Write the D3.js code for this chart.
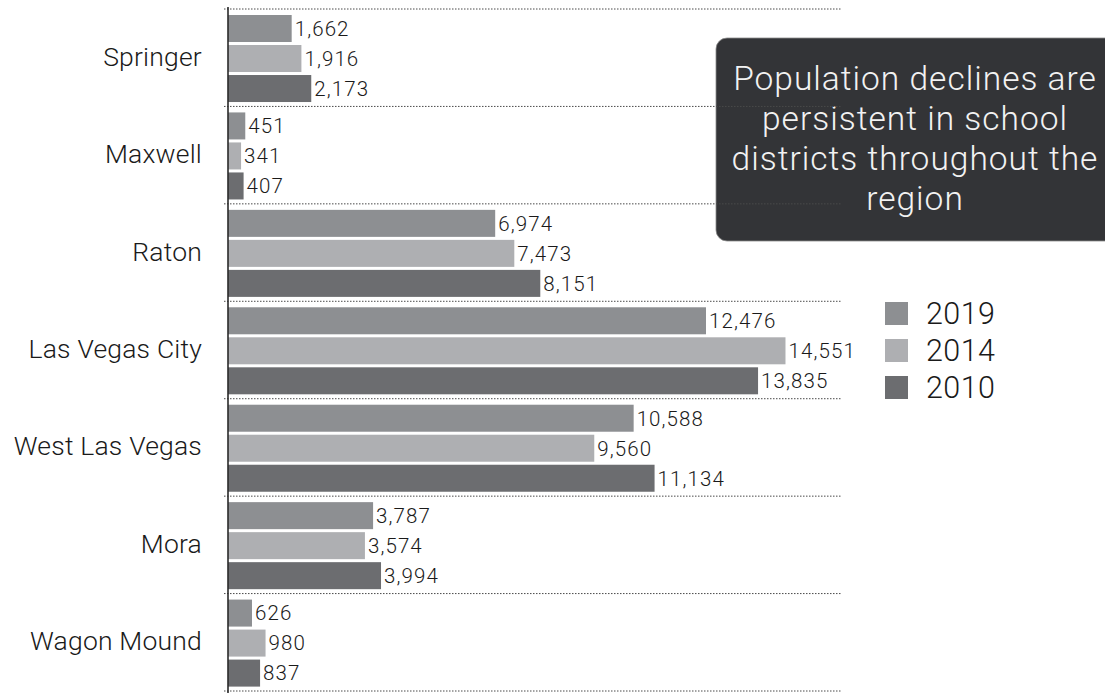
<!DOCTYPE html>
<html>
<head>
<meta charset="utf-8">
<script src="https://cdn.jsdelivr.net/npm/d3@7"></script>
<style>
  html, body { margin: 0; padding: 0; background: #fff; }
  svg { display: block; font-family: Roboto, "Helvetica Neue", "Liberation Sans", sans-serif; font-weight: 300; }
</style>
</head>
<body>
<svg id="chart" width="1105" height="693"></svg>
<script>
// School districts, top to bottom
const districts = ["Springer", "Maxwell", "Raton", "Las Vegas City", "West Las Vegas", "Mora", "Wagon Mound"];
// Enrollment-area population by year
const years = ["2019", "2014", "2010"];
const pop2019 = [1662, 451, 6974, 12476, 10588, 3787, 626];
const pop2014 = [1916, 341, 7473, 14551, 9560, 3574, 980];
const pop2010 = [2173, 407, 8151, 13835, 11134, 3994, 837];
const yearColors = ["#8d8f92", "#aeafb2", "#6c6d70"];
const noteLines = ["Population declines are", "persistent in school", "districts throughout the", "region"];

const seriesValues = [pop2019, pop2014, pop2010];
const rows = districts.map((d, i) => ({
  district: d,
  values: years.map((y, j) => ({ year: y, value: seriesValues[j][i] }))
}));

const svg = d3.select("#chart");

const x = d3.scaleLinear().domain([0, 16000]).range([228, 841]);
const y = d3.scaleBand().domain(districts).range([9, 691]).paddingInner(0).paddingOuter(0);
const yInner = d3.scaleBand().domain(years).range([6, y.bandwidth() - 4.4]).paddingInner(0.1);
const color = d3.scaleOrdinal().domain(years).range(yearColors);
const fmt = d3.format(",");

// Callout box (dotted separators sit on top of it)
const note = svg.append("g");
note.append("rect")
  .attr("x", 716).attr("y", 38)
  .attr("width", 420).attr("height", 203)
  .attr("rx", 11).attr("ry", 11)
  .attr("fill", "#333437")
  .attr("stroke", "#8a8a8a").attr("stroke-width", 0.8);
note.append("text")
  .attr("x", 915).attr("y", 90)
  .attr("text-anchor", "middle")
  .attr("fill", "#f2f2f2")
  .style("font-size", "33.5px")
  .style("letter-spacing", "1px")
  .selectAll("tspan").data(noteLines).join("tspan")
  .attr("x", 915)
  .attr("dy", (d, i) => i === 0 ? 0 : 40)
  .text(d => d);

// Dotted group separators
const edges = districts.map(d => y(d)).concat([y.range()[1]]);
svg.append("g").selectAll("line").data(edges).join("line")
  .attr("x1", 224).attr("x2", x.range()[1] + 1)
  .attr("y1", d => d).attr("y2", d => d)
  .attr("stroke", "#4a4a4a").attr("stroke-width", 1)
  .attr("stroke-dasharray", "1.5,1.5");

// Bars and value labels
const groups = svg.append("g").selectAll("g").data(rows).join("g")
  .attr("transform", d => `translate(0,${y(d.district)})`);

groups.selectAll("rect").data(d => d.values).join("rect")
  .attr("x", x(0))
  .attr("y", d => yInner(d.year))
  .attr("width", d => x(d.value) - x(0))
  .attr("height", yInner.bandwidth())
  .attr("fill", d => color(d.year));

groups.selectAll("text.val").data(d => d.values).join("text")
  .attr("class", "val")
  .attr("x", d => x(d.value) + 3)
  .attr("y", d => yInner(d.year) + yInner.bandwidth() / 2)
  .attr("dy", "0.36em")
  .attr("fill", "#1a1a1a")
  .style("font-size", "20.5px")
  .style("letter-spacing", "1.1px")
  .text(d => fmt(d.value));

// Category axis
const yAxis = d3.axisLeft(y).tickSize(0).tickPadding(26);
const axisG = svg.append("g").attr("transform", `translate(${x(0)},0)`).call(yAxis);
axisG.attr("font-family", null).attr("font-size", null);
axisG.select(".domain").remove();
axisG.selectAll("text")
  .attr("fill", "#1a1a1a")
  .attr("dy", "0.3em")
  .style("font-size", "26.5px")
  .style("letter-spacing", "0.2px");
svg.append("line")
  .attr("x1", x(0)).attr("x2", x(0))
  .attr("y1", 7).attr("y2", 693)
  .attr("stroke", "#2a2a2a").attr("stroke-width", 1.6);

// Legend
const legend = svg.append("g").selectAll("g").data(years).join("g")
  .attr("transform", (d, i) => `translate(885,${302 + i * 37})`);
legend.append("rect")
  .attr("width", 23).attr("height", 23)
  .attr("fill", d => color(d));
legend.append("text")
  .attr("x", 41).attr("y", 11.5)
  .attr("dy", "0.36em")
  .attr("fill", "#1a1a1a")
  .style("font-size", "30.5px")
  .style("letter-spacing", "0.4px")
  .text(d => d);
</script>
</body>
</html>
